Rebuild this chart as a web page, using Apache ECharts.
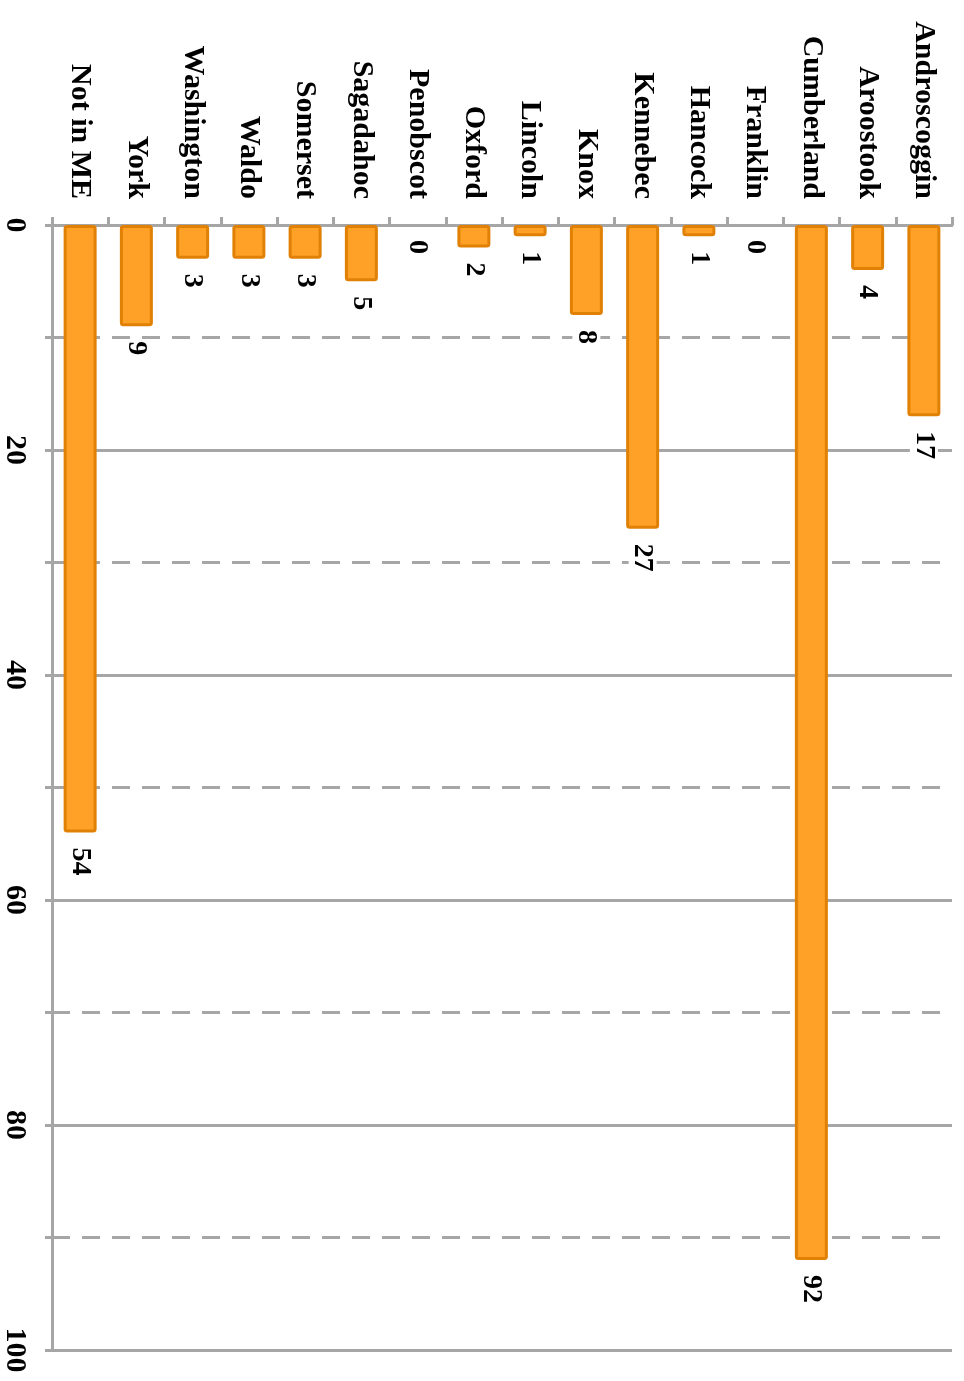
<!DOCTYPE html>
<html>
<head>
<meta charset="utf-8">
<script src="https://cdn.jsdelivr.net/npm/echarts@6/dist/echarts.min.js"></script>
<style>
  html, body { margin: 0; padding: 0; background: #fff; }
  #chart { width: 964px; height: 1381px; }
</style>
</head>
<body>
<div id="chart"></div>
<script>
// counties, listed from the right edge of the picture to the left
var counties = ['Androscoggin', 'Aroostook', 'Cumberland', 'Franklin', 'Hancock', 'Kennebec', 'Knox',
    'Lincoln', 'Oxford', 'Penobscot', 'Sagadahoc', 'Somerset', 'Waldo', 'Washington', 'York', 'Not in ME'];
var counts = [17, 4, 92, 0, 1, 27, 8, 1, 2, 0, 5, 3, 3, 3, 9, 54];

var axisGray = '#A6A6A6';
var fontFam = '"Liberation Serif", "DejaVu Serif", serif';

var chart = echarts.init(document.getElementById('chart'), null, {renderer: 'canvas'});

// 0 值的柱子不画边框
var barData = counts.map(function (v) {
    if (v === 0) {
        return {value: v, itemStyle: {borderWidth: 0, opacity: 0}};
    }
    return v;
});

var option = {
    animation: false,
    backgroundColor: '#fff',
    grid: {
        left: 52,
        right: 12,
        top: 225,
        bottom: 31,
        containLabel: false
    },
    xAxis: {
        type: 'category',
        position: 'top',
        inverse: true,
        data: counties,
        axisLine: {
            show: true,
            lineStyle: {color: axisGray, width: 3}
        },
        axisTick: {
            show: true,
            length: 8,
            lineStyle: {color: axisGray, width: 3}
        },
        axisLabel: {
            rotate: -90,
            margin: 26,
            color: '#000',
            fontFamily: fontFam,
            fontWeight: 'bold',
            fontSize: 30,
            interval: 0
        },
        splitLine: {show: false}
    },
    yAxis: {
        type: 'value',
        inverse: true,
        min: 0,
        max: 100,
        interval: 20,
        axisLine: {
            show: true,
            lineStyle: {color: axisGray, width: 3}
        },
        axisTick: {
            show: true,
            length: 7,
            lineStyle: {color: axisGray, width: 3}
        },
        minorTick: {
            show: true,
            splitNumber: 2,
            length: 7,
            lineStyle: {color: axisGray, width: 3}
        },
        splitLine: {
            show: true,
            lineStyle: {color: axisGray, width: 3, type: 'solid'}
        },
        minorSplitLine: {
            show: true,
            lineStyle: {color: axisGray, width: 3, type: [18, 12]}
        },
        axisLabel: {
            rotate: -90,
            margin: 22,
            color: '#000',
            fontFamily: fontFam,
            fontWeight: 'bold',
            fontSize: 30
        }
    },
    series: [{
        type: 'bar',
        data: barData,
        barWidth: 33,
        itemStyle: {
            color: '#FFA126',
            borderColor: '#E08106',
            borderWidth: 3,
            borderRadius: 2
        },
        label: {
            show: true,
            position: 'bottom',
            distance: 14,
            rotate: -90,
            align: 'left',
            verticalAlign: 'middle',
            color: '#000',
            opacity: 1,
            backgroundColor: '#fff',
            padding: [0, 1],
            fontFamily: fontFam,
            fontWeight: 'bold',
            fontSize: 28
        }
    }]
};
chart.setOption(option);
</script>
</body>
</html>
